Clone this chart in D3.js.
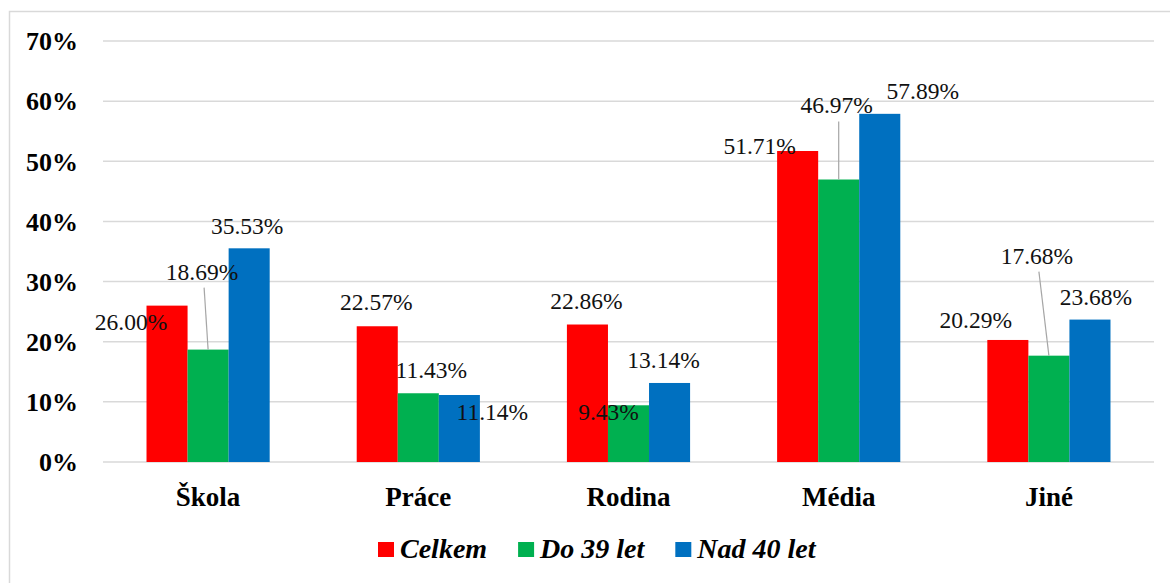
<!DOCTYPE html>
<html>
<head>
<meta charset="utf-8">
<script src="https://cdn.jsdelivr.net/npm/d3@7"></script>
<style>
  body { margin: 0; background: #fff; }
</style>
</head>
<body>
<script>
var w = 1170;
var h = 583;
var serif = "'Liberation Serif', 'Times New Roman', serif";

// data
var categories = ["Škola", "Práce", "Rodina", "Média", "Jiné"];
var seriesNames = ["Celkem", "Do 39 let", "Nad 40 let"];
var celkem = [0.2600, 0.2257, 0.2286, 0.5171, 0.2029];
var do39 = [0.1869, 0.1143, 0.0943, 0.4697, 0.1768];
var nad40 = [0.3553, 0.1114, 0.1314, 0.5789, 0.2368];
var yTicks = [0, 0.1, 0.2, 0.3, 0.4, 0.5, 0.6, 0.7];

var colors = ["#FF0000", "#00B050", "#0070C0"];

// label nudges (label centre relative to bar centre / bar top), as in the original
var labelNudge = [
  [[-36, 16], [-1, -24], [-1, -24], [-38, -5], [-32, -20]],
  [[-6, -78], [13, -23], [-20, 7], [-2, -74], [-12, -100]],
  [[-2, -22], [33, 17], [-6, -23], [43, -23], [6, -23]]
];
var leader = [
  [false, false, false, false, false],
  [true, false, false, true, true],
  [false, false, false, false, false]
];

var allSeries = [celkem, do39, nad40];

var svg = d3.select("body").append("svg")
          .attr("width", w)
          .attr("height", h)
          .style("font-family", serif);

// chart border
svg.append("path")
   .attr("d", "M9.5," + h + "V11.5H" + w)
   .attr("fill", "none")
   .attr("stroke", "#d9d9d9")
   .attr("stroke-width", 1.5);

var x0 = d3.scaleBand()
           .domain(categories)
           .range([103, 1154])
           .paddingInner(0.414)
           .paddingOuter(0.207);

var x1 = d3.scaleBand()
           .domain(d3.range(seriesNames.length))
           .range([0, x0.bandwidth()]);

var y = d3.scaleLinear()
          .domain([0, 0.7])
          .range([462, 41]);

// gridlines
svg.append("g")
   .selectAll("line")
   .data(yTicks)
   .join("line")
   .attr("x1", 103)
   .attr("x2", 1154)
   .attr("y1", d => y(d))
   .attr("y2", d => y(d))
   .attr("stroke", "#d9d9d9")
   .attr("stroke-width", 1.5);

// y axis labels
var yAxis = d3.axisLeft(y)
              .tickValues(yTicks)
              .tickFormat(d3.format(".0%"))
              .tickSize(0)
              .tickPadding(0);

var yg = svg.append("g")
            .attr("transform", "translate(78,0)")
            .call(yAxis);
yg.attr("font-family", null);
yg.select(".domain").remove();
yg.selectAll("text")
  .style("font-family", serif)
  .attr("font-size", 26)
  .attr("font-weight", "bold")
  .attr("fill", "#000")
  .attr("dy", "0.34em");

// bars
allSeries.forEach(function(vals, s) {
  svg.append("g")
     .selectAll("rect")
     .data(vals)
     .join("rect")
     .attr("x", (d, i) => x0(categories[i]) + x1(s))
     .attr("y", d => y(d))
     .attr("width", x1.bandwidth())
     .attr("height", d => y(0) - y(d))
     .attr("fill", colors[s]);
});

// data labels and leader lines
allSeries.forEach(function(vals, s) {
  vals.forEach(function(v, i) {
    var cx = x0(categories[i]) + x1(s) + x1.bandwidth() / 2;
    var top = y(v);
    var lx = cx + labelNudge[s][i][0];
    var ly = top + labelNudge[s][i][1];
    if (leader[s][i]) {
      svg.append("line")
         .attr("x1", lx + 2)
         .attr("y1", ly + 16)
         .attr("x2", cx)
         .attr("y2", top)
         .attr("stroke", "#a6a6a6")
         .attr("stroke-width", 1.2);
    }
    svg.append("text")
       .attr("x", lx)
       .attr("y", ly)
       .attr("dy", "0.34em")
       .attr("text-anchor", "middle")
       .style("font-family", serif)
       .attr("font-size", 23.5)
       .attr("fill", "#111")
       .text(d3.format(".2%")(v));
  });
});

// category labels
var xAxis = d3.axisBottom(x0).tickSize(0).tickPadding(0);
var xg = svg.append("g")
            .attr("transform", "translate(0,487)")
            .call(xAxis);
xg.attr("font-family", null);
xg.select(".domain").remove();
xg.selectAll("text")
  .style("font-family", serif)
  .attr("font-size", 27)
  .attr("font-weight", "bold")
  .attr("fill", "#000")
  .attr("dy", "0.7em");

// legend
var legend = svg.append("g");
var lxPos = 378;
seriesNames.forEach(function(name, s) {
  legend.append("rect")
        .attr("x", lxPos)
        .attr("y", 542)
        .attr("width", 16)
        .attr("height", 15)
        .attr("fill", colors[s]);
  var t = legend.append("text")
                .attr("x", lxPos + 22)
                .attr("y", 558)
                .style("font-family", serif)
                .attr("font-size", 28)
                .attr("font-weight", "bold")
                .attr("font-style", "italic")
                .attr("fill", "#000")
                .text(name);
  lxPos += 22 + t.node().getComputedTextLength() + 31;
});
</script>
</body>
</html>
